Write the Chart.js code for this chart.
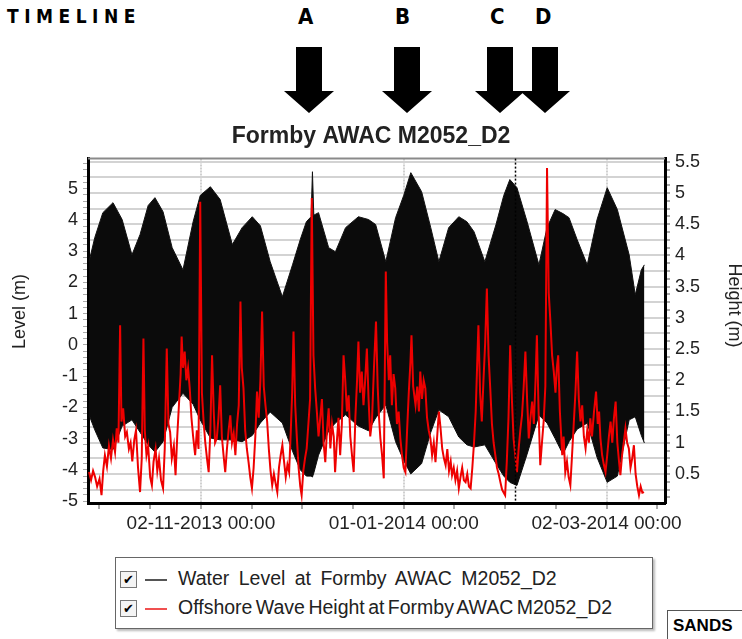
<!DOCTYPE html>
<html>
<head>
<meta charset="utf-8">
<script src="https://cdn.jsdelivr.net/npm/chart.js@4.4.1/dist/chart.umd.min.js"></script>
<style>
    body { margin: 0; background: #fff; font-family: 'Liberation Sans', Arial, sans-serif; }
    #page { position: relative; width: 742px; height: 639px; overflow: hidden; }
    .head { position: absolute; font-family: 'DejaVu Sans Condensed', 'Liberation Sans Narrow', sans-serif; font-weight: bold; color: #000; }
    #timeline { left: 7px; top: 5px; font-size: 19px; letter-spacing: 5.5px; }
    .letter { top: 4px; font-size: 22px; }
    #arrows { position: absolute; left: 0; top: 0; }
    #chartBox { position: absolute; left: 0; top: 120px; width: 742px; height: 425px; }
    #legend { position: absolute; left: 115px; top: 557px; width: 536px; height: 70px; border: 1px solid #666; box-shadow: 2px 2px 2px #bbb; font-size: 19.5px; color: #222; }
    .row { position: absolute; left: 4px; height: 20px; line-height: 20px; white-space: nowrap; }
    .check { display: inline-block; width: 15px; height: 15px; border: 1px solid #777; font-size: 13px; line-height: 15px; text-align: center; vertical-align: middle; margin-right: 8px; background: #f4f4f4; color: #000; word-spacing: 0; }
    .swatch { display: inline-block; width: 22px; height: 2px; vertical-align: middle; margin-right: 11px; }
    #sands { position: absolute; left: 667px; top: 610px; width: 80px; height: 30px; border: 1px solid #555; font-weight: bold; font-size: 17px; line-height: 30px; padding-left: 5px; box-sizing: border-box; }
</style>
</head>
<body>
<div id="page">
    <div id="timeline" class="head">TIMELINE</div>
    <div class="head letter" style="left:298px">A</div>
    <div class="head letter" style="left:395px">B</div>
    <div class="head letter" style="left:490px">C</div>
    <div class="head letter" style="left:535px">D</div>
    <svg id="arrows" width="742" height="125"></svg>

    <div id="chartBox"><canvas id="levelChart" width="742" height="425"></canvas></div>

    <div id="legend">
        <div class="row" style="top:10px; word-spacing:4px"><span class="check">&#10004;</span><span class="swatch" style="background:#555"></span>Water Level at Formby AWAC M2052_D2</div>
        <div class="row" style="top:39px; word-spacing:-2px"><span class="check">&#10004;</span><span class="swatch" style="background:#f05050"></span>Offshore Wave Height at Formby AWAC M2052_D2</div>
    </div>
    <div id="sands">SANDS</div>
</div>

<script>
// x values are days counted from 02-11-2013 00:00
const tideDays = [-33.1, -31.4, -29.0, -26.0, -23.3, -20.4, -18.0, -15.6, -13.6, -11.2,
    -8.5, -5.3, -2.3, -0.2, 2.8, 5.7, 9.3, 12.2, 15.2, 17.6,
    20.5, 24.1, 27.1, 29.4, 31.2, 32.6, 33.0, 33.4, 34.8, 37.8,
    39.8, 42.8, 46.6, 49.6, 51.7, 54.7, 57.6, 60.0, 62.1, 65.3,
    68.0, 70.4, 73.3, 76.3, 78.7, 80.8, 84.0, 87.3, 89.6, 91.4,
    93.5, 96.5, 100.0, 102.4, 104.8, 107.1, 108.9, 111.3, 114.3, 117.2,
    120.2, 123.2, 126.7, 128.5, 130.3, 131.2];
const highWater = [2.66, 3.43, 4.23, 4.55, 4.01, 2.88, 3.53, 4.46, 4.71, 4.26,
    3.11, 2.40, 3.94, 4.78, 5.06, 4.65, 3.21, 3.75, 4.10, 3.81,
    2.66, 1.54, 2.56, 3.37, 3.94, 4.10, 5.54, 4.15, 4.23, 3.11,
    2.98, 3.75, 4.10, 4.01, 3.85, 2.66, 4.07, 4.78, 5.51, 4.90,
    3.75, 2.66, 3.75, 4.10, 3.94, 3.62, 2.66, 3.85, 4.78, 5.29,
    5.03, 3.94, 2.56, 3.75, 4.33, 4.20, 4.07, 3.37, 2.56, 4.01,
    5.03, 4.33, 2.88, 1.60, 2.40, 2.56];
const lowWater = [-2.24, -2.72, -3.30, -3.35, -2.60, -2.40, -2.80, -3.20, -3.43, -3.10,
    -2.00, -1.55, -1.90, -2.40, -2.98, -3.04, -3.04, -3.10, -2.90, -2.50,
    -2.15, -2.50, -3.40, -4.00, -4.20, -4.20, -4.23, -4.10, -3.53, -2.75,
    -2.50, -2.24, -2.60, -2.75, -2.34, -1.92, -3.10, -3.70, -4.13, -3.80,
    -2.80, -2.08, -2.30, -2.95, -3.20, -3.27, -3.20, -3.80, -4.20, -4.40,
    -4.50, -3.50, -2.25, -2.50, -3.00, -3.50, -3.10, -2.70, -2.50, -3.60,
    -4.40, -4.20, -2.40, -2.30, -2.90, -3.14];

const waveDays = [-33.1, -32.5, -31.9, -31.3, -30.7, -30.0, -29.4, -28.9, -28.4, -27.8,
    -27.2, -26.6, -26.0, -25.4, -24.9, -24.4, -23.9, -23.5, -23.0, -22.4,
    -21.9, -21.3, -20.8, -20.3, -19.7, -19.2, -18.6, -18.0, -17.5, -17.0,
    -16.6, -16.1, -15.6, -15.0, -14.5, -14.0, -13.4, -12.9, -12.4, -11.8,
    -11.2, -10.7, -10.1, -9.6, -9.1, -8.6, -8.0, -7.5, -7.0, -6.5,
    -6.0, -5.7, -5.3, -4.8, -4.3, -3.8, -3.3, -2.8, -2.3, -1.7,
    -1.2, -0.7, -0.2, 0.3, 0.8, 1.3, 1.8, 2.3, 2.8, 3.3,
    3.8, 4.2, 4.7, 5.2, 5.7, 6.2, 6.7, 7.2, 7.7, 8.2,
    8.7, 9.2, 9.7, 10.2, 10.7, 11.2, 11.7, 12.1, 12.6, 13.1,
    13.6, 14.1, 14.6, 15.1, 15.6, 16.1, 16.6, 17.1, 17.6, 18.1,
    18.6, 19.1, 19.6, 20.1, 20.6, 21.1, 21.6, 22.1, 22.6, 23.1,
    23.6, 24.1, 24.6, 25.1, 25.6, 26.1, 26.6, 27.0, 27.4, 27.9,
    28.4, 28.9, 29.4, 29.8, 30.3, 30.8, 31.3, 31.8, 32.3, 32.8,
    33.3, 33.8, 34.3, 34.8, 35.3, 35.8, 36.3, 36.8, 37.3, 37.8,
    38.3, 38.8, 39.3, 39.7, 40.2, 40.7, 41.2, 41.7, 42.2, 42.7,
    43.2, 43.7, 44.2, 44.7, 45.2, 45.7, 46.2, 46.6, 47.1, 47.6,
    48.1, 48.6, 49.1, 49.6, 50.1, 50.6, 51.2, 51.8, 52.3, 52.7,
    53.1, 53.6, 54.1, 54.7, 55.1, 55.6, 56.0, 56.5, 57.0, 57.5,
    58.0, 58.5, 59.0, 59.5, 60.0, 60.5, 61.0, 61.5, 62.0, 62.3,
    62.8, 63.5, 64.0, 64.5, 64.9, 65.4, 65.9, 66.4, 66.9, 67.4,
    67.9, 68.4, 68.9, 69.4, 69.9, 70.4, 70.9, 71.4, 71.9, 72.4,
    72.9, 73.4, 73.9, 74.3, 74.8, 75.3, 75.8, 76.3, 76.8, 77.3,
    77.8, 78.3, 78.8, 79.3, 79.8, 80.3, 80.8, 81.3, 81.7, 82.1,
    82.6, 83.1, 83.6, 84.1, 84.6, 85.1, 85.6, 86.1, 86.6, 87.1,
    87.6, 88.1, 88.6, 89.1, 89.6, 90.0, 90.5, 91.0, 91.5, 92.0,
    92.5, 93.0, 93.5, 94.0, 94.5, 95.0, 95.5, 96.0, 96.5, 97.0,
    97.5, 98.0, 98.5, 99.0, 99.4, 99.9, 100.4, 100.9, 101.4, 101.9,
    102.4, 102.9, 103.4, 103.9, 104.4, 104.9, 105.3, 105.7, 106.2, 106.9,
    107.3, 107.8, 108.3, 108.8, 109.3, 109.8, 110.3, 110.8, 111.3, 111.8,
    112.3, 112.8, 113.3, 113.8, 114.3, 114.8, 115.2, 115.7, 116.3, 116.9,
    117.4, 117.8, 118.2, 118.7, 119.2, 119.7, 120.2, 120.7, 121.2, 121.7,
    122.2, 122.7, 123.2, 123.7, 124.1, 124.6, 125.1, 125.6, 126.1, 126.6,
    127.1, 127.6, 128.1, 128.6, 129.1, 129.6, 130.1, 130.6, 131.1];
const waveHeight = [0.53, 0.40, 0.55, 0.45, 0.30, 0.42, 0.16, 0.55, 0.80, 0.62,
    0.95, 0.75, 1.05, 0.85, 1.23, 1.00, 2.88, 1.34, 1.55, 1.10,
    1.17, 0.90, 1.00, 0.70, 1.05, 1.20, 0.60, 0.21, 0.75, 2.67,
    1.20, 0.80, 0.95, 0.45, 0.32, 0.70, 0.90, 0.55, 0.75, 0.40,
    0.27, 0.90, 2.51, 1.30, 1.17, 0.75, 0.95, 0.48, 1.10, 1.60,
    2.10, 2.70, 2.20, 2.46, 2.00, 2.20, 1.87, 1.40, 1.10, 0.80,
    1.20, 0.90, 4.86, 1.80, 1.34, 1.00, 0.75, 0.53, 1.20, 2.40,
    1.50, 1.00, 1.07, 1.40, 1.92, 1.10, 0.80, 0.53, 0.90, 1.20,
    1.44, 1.00, 1.15, 0.80, 1.30, 1.60, 3.26, 2.20, 1.87, 1.20,
    0.90, 0.69, 0.45, 0.27, 0.60, 1.10, 1.82, 1.40, 2.00, 3.10,
    1.90, 1.60, 1.34, 0.90, 0.55, 0.32, 0.50, 0.35, 0.21, 0.60,
    0.80, 0.96, 0.70, 0.45, 0.65, 0.53, 1.20, 1.80, 2.78, 1.60,
    1.07, 0.60, 0.30, 0.16, 0.55, 0.75, 0.91, 1.30, 1.70, 4.92,
    2.40, 1.87, 1.50, 1.10, 1.39, 1.70, 1.00, 0.69, 1.20, 1.55,
    0.91, 1.30, 1.10, 0.53, 1.00, 1.40, 0.80, 1.30, 2.40, 2.00,
    1.50, 1.76, 1.10, 0.80, 0.53, 1.40, 2.00, 2.62, 1.80, 2.14,
    1.60, 2.00, 2.51, 1.70, 1.10, 1.34, 2.20, 2.94, 1.90, 1.40,
    1.07, 0.80, 0.43, 3.74, 2.60, 2.00, 2.40, 1.60, 2.10, 1.87,
    1.30, 1.50, 1.07, 0.80, 0.60, 0.53, 1.20, 1.80, 2.30, 2.72,
    1.90, 1.60, 1.90, 1.50, 2.14, 1.70, 2.00, 1.87, 1.40, 1.20,
    1.07, 0.80, 1.00, 0.69, 1.10, 1.50, 1.23, 0.90, 0.75, 0.64,
    0.90, 0.55, 0.70, 0.48, 0.60, 0.40, 0.55, 0.27, 0.45, 0.60,
    0.40, 0.37, 0.50, 0.30, 0.27, 0.60, 1.00, 1.50, 2.20, 2.88,
    1.80, 1.34, 2.00, 2.60, 3.47, 2.40, 1.87, 1.30, 1.00, 0.80,
    0.60, 0.50, 0.37, 0.25, 0.20, 0.16, 0.70, 1.40, 2.56, 1.70,
    1.07, 0.80, 0.53, 0.90, 1.20, 1.44, 1.90, 2.46, 1.70, 1.07,
    1.40, 1.66, 1.30, 2.00, 2.72, 1.50, 0.64, 1.00, 1.34, 1.90,
    5.40, 3.40, 2.94, 2.40, 2.14, 1.80, 2.20, 2.40, 1.50, 0.80,
    1.10, 0.53, 0.70, 0.45, 0.32, 0.80, 1.30, 1.80, 2.46, 1.70,
    1.34, 1.60, 1.10, 0.91, 1.20, 1.00, 1.39, 1.10, 1.50, 1.82,
    1.30, 1.50, 1.07, 0.80, 0.65, 0.53, 0.80, 1.10, 1.34, 1.00,
    1.40, 1.66, 1.00, 0.70, 0.48, 0.80, 1.00, 1.23, 1.00, 0.91,
    0.60, 0.75, 0.96, 0.50, 0.30, 0.16, 0.30, 0.20, 0.21];

// axis ticks
const tickDays = [-30, -15, 0, 15, 30, 45, 60, 75, 90, 105, 120, 135];
const labelDays = [0, 60, 120];
const dateLabels = ['02-11-2013 00:00', '01-01-2014 00:00', '02-03-2014 00:00'];
const cursorDay = 93.0;

// timeline markers A-D (arrow centres in page pixels)
const arrowCentres = [309, 407, 500, 545];

document.addEventListener('DOMContentLoaded', () => {
    // arrows
    const svg = document.getElementById('arrows');
    arrowCentres.forEach(cx => {
        const p = document.createElementNS('http://www.w3.org/2000/svg', 'polygon');
        const pts = [[cx - 13, 47], [cx + 13, 47], [cx + 13, 91], [cx + 25, 91], [cx, 113], [cx - 25, 91], [cx - 13, 91]];
        p.setAttribute('points', pts.map(q => q.join(',')).join(' '));
        p.setAttribute('fill', '#000');
        svg.appendChild(p);
    });

    const family = "'Liberation Sans', Arial, sans-serif";
    const near = (v, step) => Math.abs(v / step - Math.round(v / step)) < 1e-6;

    // top frame line, time cursor and the two axis titles
    const framePlugin = {
        id: 'frame',
        afterDatasetsDraw(chart) {
            const { ctx, chartArea, scales } = chart;
            ctx.save();
            ctx.strokeStyle = '#8a8a8a';
            ctx.lineWidth = 2;
            ctx.beginPath();
            ctx.moveTo(chartArea.left, chartArea.top);
            ctx.lineTo(chartArea.right, chartArea.top);
            ctx.stroke();

            const x = Math.round(scales.x.getPixelForValue(cursorDay)) + 0.5;
            ctx.strokeStyle = '#000';
            ctx.lineWidth = 1.5;
            ctx.setLineDash([2, 2]);
            ctx.beginPath();
            ctx.moveTo(x, chartArea.top);
            ctx.lineTo(x, chartArea.bottom);
            ctx.stroke();
            ctx.restore();
        },
        afterDraw(chart) {
            const { ctx, chartArea } = chart;
            ctx.save();
            ctx.font = '18px ' + family;
            ctx.fillStyle = '#222';
            ctx.textAlign = 'center';
            ctx.textBaseline = 'middle';
            ctx.translate(20, chartArea.top + 153);
            ctx.rotate(-Math.PI / 2);
            ctx.fillText('Level (m)', 0, 0);
            ctx.restore();

            ctx.save();
            ctx.font = '18px ' + family;
            ctx.fillStyle = '#222';
            ctx.textAlign = 'center';
            ctx.textBaseline = 'middle';
            ctx.translate(734, chartArea.top + 147);
            ctx.rotate(Math.PI / 2);
            ctx.fillText('Height (m)', 0, 0);
            ctx.restore();
        }
    };

    const ctx = document.getElementById('levelChart').getContext('2d');
    new Chart(ctx, {
        type: 'line',
        data: {
            datasets: [
                {
                    label: 'Offshore Wave Height at Formby AWAC M2052_D2',
                    data: waveDays.map((d, i) => ({ x: d, y: waveHeight[i] })),
                    yAxisID: 'y2',
                    borderColor: '#ee0000',
                    borderWidth: 2,
                    pointRadius: 0,
                    tension: 0,
                    fill: false
                },
                {
                    label: 'Water Level at Formby AWAC M2052_D2',
                    data: tideDays.map((d, i) => ({ x: d, y: highWater[i] })),
                    yAxisID: 'y',
                    borderColor: '#111',
                    backgroundColor: '#0b0b0b',
                    borderWidth: 1,
                    pointRadius: 0,
                    tension: 0,
                    fill: '+1'
                },
                {
                    label: 'Water Level (low)',
                    data: tideDays.map((d, i) => ({ x: d, y: lowWater[i] })),
                    yAxisID: 'y',
                    borderColor: '#111',
                    borderWidth: 1,
                    pointRadius: 0,
                    tension: 0,
                    fill: false
                }
            ]
        },
        options: {
            responsive: false,
            animation: false,
            layout: { padding: 0 },
            plugins: {
                legend: { display: false },
                tooltip: { enabled: false },
                title: {
                    display: true,
                    text: 'Formby AWAC M2052_D2',
                    color: '#222',
                    font: { family: family, size: 23, weight: 'bold' },
                    padding: { top: 3, bottom: 8 }
                }
            },
            scales: {
                x: {
                    type: 'linear',
                    min: -33.4,
                    max: 137.3,
                    afterBuildTicks: axis => { axis.ticks = tickDays.map(v => ({ value: v })); },
                    afterFit: s => { s.height = 42; },
                    ticks: {
                        autoSkip: false,
                        maxRotation: 0,
                        color: '#222',
                        font: { family: family, size: 19 },
                        padding: 3,
                        callback: v => {
                            const i = labelDays.indexOf(v);
                            return i >= 0 ? dateLabels[i] : '';
                        }
                    },
                    grid: {
                        color: c => (c.tick && labelDays.includes(c.tick.value)) ? '#d0d0d0' : 'rgba(0,0,0,0)',
                        lineWidth: 2,
                        tickColor: '#aaa',
                        tickLength: 6
                    },
                    border: { color: '#000', width: 3, dash: [2, 1] }
                },
                y: {
                    position: 'left',
                    min: -5.06,
                    max: 5.96,
                    afterBuildTicks: axis => {
                        const t = [];
                        for (let v = -50; v <= 59; v += 2) t.push({ value: v / 10 });
                        axis.ticks = t;
                    },
                    afterFit: s => { s.width = 88; },
                    ticks: {
                        autoSkip: false,
                        color: '#222',
                        font: { family: family, size: 18 },
                        padding: 5,
                        callback: v => near(v, 1) ? String(Math.round(v)) : ''
                    },
                    grid: { drawOnChartArea: false, tickColor: '#aaa', tickLength: 5 },
                    border: { color: '#000', width: 3 }
                },
                y2: {
                    position: 'right',
                    min: 0.035,
                    max: 5.55,
                    afterBuildTicks: axis => {
                        const t = [];
                        for (let v = 1; v <= 44; v++) t.push({ value: v * 0.125 });
                        axis.ticks = t;
                    },
                    afterFit: s => { s.width = 77; },
                    ticks: {
                        autoSkip: false,
                        color: '#222',
                        font: { family: family, size: 18 },
                        padding: 5,
                        callback: v => near(v, 0.5) ? String(Math.round(v * 10) / 10) : ''
                    },
                    grid: {
                        color: c => (c.tick && near(c.tick.value, 0.25)) ? '#d3d3d3' : 'rgba(0,0,0,0)',
                        lineWidth: 2,
                        tickColor: '#aaa',
                        tickLength: 5
                    },
                    border: { color: '#000', width: 3 }
                }
            }
        },
        plugins: [framePlugin]
    });
});
</script>
</body>
</html>
